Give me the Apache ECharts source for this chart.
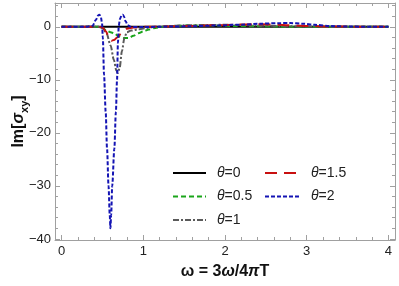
<!DOCTYPE html>
<html><head><meta charset="utf-8">
<script src="https://cdn.jsdelivr.net/npm/echarts@6/dist/echarts.min.js"></script>
<style>html,body{margin:0;padding:0;background:#fff}#c{width:399px;height:286px}</style>
</head><body><div id="c"></div>
<script>
var xMajor = [0, 1, 2, 3, 4];
var yMajor = [-40, -30, -20, -10, 0];
var xMinor = [0.2,0.4,0.6,0.8,1.2,1.4,1.6,1.8,2.2,2.4,2.6,2.8,3.2,3.4,3.6,3.8];
var yMinor = [-38,-36,-34,-32,-28,-26,-24,-22,-18,-16,-14,-12,-8,-6,-4,-2,2,4];

var theta0 = [[0,0],[4,0]];
var theta05 = [[0,0],[0.45,0],[0.5,-0.2],[0.55,-0.7],[0.6,-1.0],[0.65,-1.3],[0.7,-1.8],[0.76,-2.1],[0.82,-2.1],[0.88,-1.7],[0.94,-1.2],[1.0,-0.85],[1.07,-0.5],[1.15,-0.2],[1.24,0],[1.35,0.15],[1.5,0.24],[1.65,0.27],[1.85,0.25],[2.1,0.18],[2.4,0.1],[2.8,0.04],[3.3,0.01],[4,0]];
var theta1 = [[0,0],[0.45,0],[0.5,-0.2],[0.55,-1.2],[0.6,-3.5],[0.64,-6.2],[0.67,-8.2],[0.69,-8.7],[0.71,-7.8],[0.74,-4.5],[0.77,-2],[0.8,-1],[0.85,-0.7],[0.95,-0.45],[1.05,-0.2],[1.15,0],[1.3,0.15],[1.5,0.28],[1.75,0.36],[2.0,0.38],[2.2,0.33],[2.5,0.2],[2.8,0.1],[3.2,0.04],[4,0]];
var theta15 = [[0,0],[0.45,0],[0.5,-0.1],[0.54,-0.8],[0.58,-1.9],[0.61,-2.6],[0.64,-2.5],[0.68,-2.0],[0.72,-1.4],[0.76,-0.8],[0.8,-0.35],[0.88,-0.1],[1.0,0],[1.3,0.08],[1.6,0.18],[1.9,0.3],[2.15,0.42],[2.35,0.5],[2.55,0.45],[2.75,0.32],[3.0,0.18],[3.3,0.08],[3.7,0.02],[4,0]];
var theta2 = [[0,0],[0.3,0],[0.38,0.2],[0.42,1.3],[0.45,2.2],[0.465,2.3],[0.48,1.9],[0.495,0.8],[0.505,-2],[0.52,-9],[0.54,-16],[0.557,-23],[0.575,-30],[0.59,-35.5],[0.598,-38],[0.607,-35.5],[0.62,-30],[0.646,-23],[0.665,-16],[0.679,-10],[0.69,-3],[0.70,0.2],[0.715,1.5],[0.735,2.2],[0.75,2.3],[0.765,1.9],[0.785,1.0],[0.81,0.3],[0.85,0],[1.0,-0.05],[1.3,0.05],[1.6,0.12],[1.9,0.25],[2.2,0.42],[2.45,0.6],[2.65,0.7],[2.8,0.72],[2.95,0.6],[3.1,0.38],[3.3,0.15],[3.5,0.06],[3.8,0.02],[4.0,0]];

var names = ['θ=0','θ=0.5','θ=1','θ=1.5','θ=2'];
var FONT = 'Liberation Sans, Arial, sans-serif';
var FRAME = '#a0a0a0';
var XMIN = -0.08, XMAX = 4.08, YMIN = -40.2, YMAX = 4.5;

function xAx(pos, vals, len, labels, line) {
  return {type:'value', position:pos, min:XMIN, max:XMAX, gridIndex:0,
    axisLine:{show:line, onZero:false, lineStyle:{color:FRAME, width:1}},
    axisTick:{show:true, inside:true, length:len, customValues:vals, lineStyle:{color:FRAME}},
    axisLabel:{show:labels, customValues:vals, color:'#222', fontSize:13, fontFamily:FONT, margin:5},
    splitLine:{show:false}};
}
function yAx(pos, vals, len, labels, line) {
  return {type:'value', position:pos, min:YMIN, max:YMAX, gridIndex:0,
    axisLine:{show:line, onZero:false, lineStyle:{color:FRAME, width:1}},
    axisTick:{show:true, inside:true, length:len, customValues:vals, lineStyle:{color:FRAME}},
    axisLabel:{show:labels, customValues:vals, color:'#222', fontSize:13, fontFamily:FONT, margin:4,
      formatter:function(v){return String(v).replace('-', '\u2212');}},
    splitLine:{show:false}};
}

var xa = [xAx('bottom', xMajor, 5, true, true), xAx('bottom', xMinor, 3, false, false),
          xAx('top', xMajor, 5, false, true), xAx('top', xMinor, 3, false, false)];
xa[0].name = '{b|ω = 3}{bi|ω}{b|/4}{bi|π}{b|T}';
xa[0].nameLocation = 'middle';
xa[0].nameGap = 24;
xa[0].nameMoveOverlap = false;
xa[0].nameTextStyle = {rich:{
  b:{fontSize:16, fontWeight:'bold', fontFamily:FONT, color:'#111'},
  bi:{fontSize:16, fontWeight:'bold', fontStyle:'italic', fontFamily:FONT, color:'#111'}}};

var ya = [yAx('left', yMajor, 5, true, true), yAx('left', yMinor, 3, false, false),
          yAx('right', yMajor, 5, false, true), yAx('right', yMinor, 3, false, false)];
ya[0].name = '{b|Im[}{bi|σ}{sub|xy}{b|]}';
ya[0].nameLocation = 'middle';
ya[0].nameGap = 25;
ya[0].nameRotate = 90;
ya[0].nameMoveOverlap = false;
ya[0].nameTextStyle = {rich:{
  b:{fontSize:16, fontWeight:'bold', fontFamily:FONT, color:'#111', lineHeight:22},
  bi:{fontSize:16, fontWeight:'bold', fontStyle:'italic', fontFamily:FONT, color:'#111', lineHeight:22},
  sub:{fontSize:11, fontWeight:'bold', fontFamily:FONT, color:'#111', lineHeight:10, verticalAlign:'bottom'}}};

function ser(name, data, color, type, width) {
  return {name:name, type:'line', data:data, xAxisIndex:0, yAxisIndex:0, symbol:'none',
    smooth:0.3, smoothMonotone:'x', animation:false,
    lineStyle:{color:color, width:width, type:type, cap:'butt'}, itemStyle:{color:color}};
}

var legendText = {fontSize:14, fontFamily:FONT, color:'#222', padding:[0,0,0,6],
  rich:{i:{fontSize:14, fontStyle:'italic', fontFamily:FONT, color:'#222'}}};
function lfmt(n){ return '{i|θ}' + n.slice(1); }

var option = {
  backgroundColor:'#fff',
  animation:false,
  grid:{left:55, right:4, top:3, bottom:46, containLabel:false, outerBoundsMode:'none'},
  xAxis: xa,
  yAxis: ya,
  legend:[
    {data:[names[0],names[1],names[2]], orient:'vertical', left:167, top:161, itemWidth:33, itemHeight:14, itemGap:9.5,
     selectedMode:false, textStyle:legendText, formatter:lfmt, itemStyle:{opacity:0}},
    {data:[names[3],names[4]], orient:'vertical', left:259, top:161, itemWidth:35, itemHeight:14, itemGap:9.5,
     selectedMode:false, textStyle:legendText, formatter:lfmt, itemStyle:{opacity:0}}
  ],
  series:[
    ser(names[0], theta0, '#000000', 'solid', 2),
    ser(names[1], theta05, '#1aa51a', [5,3], 2),
    ser(names[2], theta1, '#5a5a5a', [6,2,2,2], 2),
    ser(names[3], theta15, '#c81010', [12,7], 2),
    ser(names[4], theta2, '#1414b4', [4,2], 2)
  ]
};
var chart = echarts.init(document.getElementById('c'), null, {renderer:'canvas'});
chart.setOption(option);
</script></body></html>
